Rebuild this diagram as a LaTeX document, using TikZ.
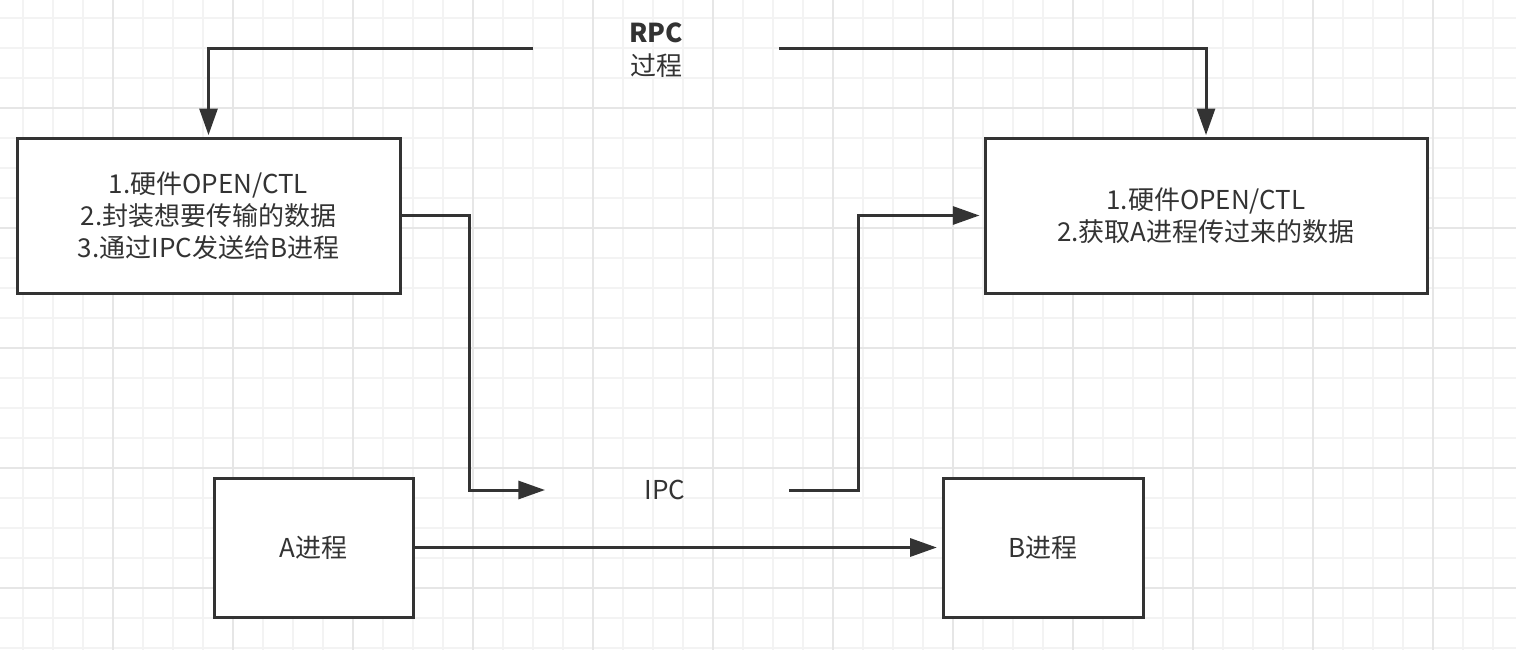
\documentclass[tikz,border=0pt]{standalone}
\usepackage{fontspec}
\setmainfont{Noto Sans CJK SC}
\usetikzlibrary{arrows.meta}
\definecolor{ink}{HTML}{333333}
\definecolor{gridminor}{HTML}{F3F3F3}
\definecolor{gridmajor}{HTML}{E6E6E6}
\tikzset{
  box/.style={draw=ink, line width=2.25pt, fill=white, inner sep=0pt, align=center, text=ink,
    font=\fontsize{19.5}{24}\selectfont},
  lbl/.style={inner sep=0pt, align=center, text=ink, font=\fontsize{19.5}{24.75}\selectfont},
  conn/.style={draw=ink, line width=2.25pt},
  arr/.style={conn, -{Triangle[length=20pt, width=13.5pt]}},
}
\begin{document}
\begin{tikzpicture}[x=0.75pt, y=-0.75pt]
\useasboundingbox (0,0) rectangle (1516,650);
\fill[white] (0,0) rectangle (1516,650);
% grid
\foreach \gx in {23,53,...,1516} \draw[gridminor, line width=0.9pt] (\gx,0) -- (\gx,650);
\foreach \gy in {18,48,...,650} \draw[gridminor, line width=0.9pt] (0,\gy) -- (1516,\gy);
\foreach \gx in {113,233,...,1516} \draw[gridmajor, line width=1.1pt] (\gx,0) -- (\gx,650);
\foreach \gy in {108,228,...,650} \draw[gridmajor, line width=1.1pt] (0,\gy) -- (1516,\gy);
% boxes
\node[box, minimum width=287.25pt, minimum height=116.25pt] (b1) at (208.5,215.5)
  {1.硬件OPEN/CTL\\2.封装想要传输的数据\\3.通过IPC发送给B进程};
\node[box, minimum width=331.5pt, minimum height=116.25pt] (b2) at (1206,215.5)
  {1.硬件OPEN/CTL\\2.获取A进程传过来的数据};
\node[box, minimum width=149.25pt, minimum height=104.25pt] (pa) at (313.5,547.5) {A进程};
\node[box, minimum width=150pt, minimum height=104.25pt] (pb) at (1043,547.5) {B进程};
% labels
\node[lbl] (rpc) at (656,50.5) {\textbf{RPC}\\过程};
\node[lbl] (ipc) at (665,490) {IPC};
\coordinate (rpcL) at (533,48);
\coordinate (rpcR) at (779,48);
\coordinate (ipcL) at (545,490);
\coordinate (ipcR) at (789,490);
% connectors
\draw[arr, shorten >=1pt] (rpcL) -| (b1.north);
\draw[arr, shorten >=1pt] (rpcR) -| (b2.north);
\draw[arr] (b1.east) -- ++(68,0) |- (ipcL);
\draw[arr, shorten >=3pt] (ipcR) -- ++(69,0) |- (b2.west);
\draw[arr, shorten >=3.5pt] (pa.east) -- (pb.west);
\end{tikzpicture}
\end{document}
